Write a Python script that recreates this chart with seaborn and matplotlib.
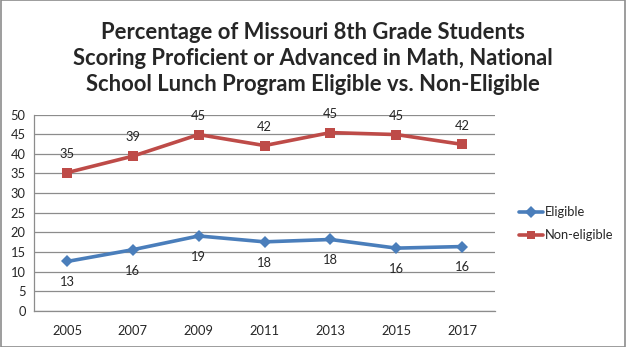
import matplotlib
matplotlib.use("Agg")
import matplotlib.pyplot as plt
import seaborn as sns
import pandas as pd
from matplotlib.patches import Rectangle
from matplotlib.lines import Line2D

years = ["2005", "2007", "2009", "2011", "2013", "2015", "2017"]
eligible = [12.6, 15.6, 19.1, 17.6, 18.2, 16.0, 16.4]
non_eligible = [35.2, 39.4, 44.9, 42.1, 45.4, 44.9, 42.4]
series_names = ["Eligible", "Non-eligible"]
title = ("Percentage of Missouri 8th Grade Students\n"
         "Scoring Proficient or Advanced in Math, National\n"
         "School Lunch Program Eligible vs. Non-Eligible")

df = pd.DataFrame({
    "year": years * 2,
    "pos": list(range(len(years))) * 2,
    "value": eligible + non_eligible,
    "group": [series_names[0]] * len(years) + [series_names[1]] * len(years),
})

sns.set_style("white")
plt.rcParams["font.family"] = ["Lato", "DejaVu Sans"]

colors = {"Eligible": "#4A7EBB", "Non-eligible": "#BE4B48"}
fig = plt.figure(figsize=(6.26, 3.47), dpi=100)
ax = fig.add_axes([0.0543, 0.1037, 0.7366, 0.5663])

sns.lineplot(data=df, x="pos", y="value", hue="group", style="group",
             markers={"Eligible": "D", "Non-eligible": "s"}, dashes=False,
             palette=colors, linewidth=2.6, markersize=6.5, markeredgewidth=0,
             ax=ax, legend=False)

ax.set_xlim(-0.5, len(years) - 0.5)
ax.set_ylim(0, 50)
ax.set_yticks(range(0, 51, 5))
ax.set_xticks(range(len(years)))
ax.set_xticklabels(years)
ax.set_xticks([i - 0.5 for i in range(len(years) + 1)], minor=True)
ax.set_xlabel("")
ax.set_ylabel("")
ax.grid(axis="y", color="#8c8c8c", linewidth=0.9)
ax.set_axisbelow(True)
for s in ["top", "right"]:
    ax.spines[s].set_visible(False)
for s in ["left", "bottom"]:
    ax.spines[s].set_color("#8c8c8c")
    ax.spines[s].set_linewidth(0.9)
ax.tick_params(axis="x", which="major", length=0, pad=10, labelsize=9.3)
ax.tick_params(axis="x", which="minor", length=5, color="#8c8c8c", width=0.9)
ax.tick_params(axis="y", length=4, color="#8c8c8c", width=0.9, pad=2, labelsize=9.3)

for i, v in enumerate(non_eligible):
    ax.annotate(f"{v:.0f}", (i, v), xytext=(0, 13.5), textcoords="offset points",
                ha="center", va="center", fontsize=9.3)
for i, v in enumerate(eligible):
    ax.annotate(f"{v:.0f}", (i, v), xytext=(0, -15), textcoords="offset points",
                ha="center", va="center", fontsize=9.3)

handles = [Line2D([], [], color=colors["Eligible"], marker="D", lw=2.6, ms=6, mew=0),
           Line2D([], [], color=colors["Non-eligible"], marker="s", lw=2.6, ms=6, mew=0)]
fig.legend(handles, series_names, loc="center left", bbox_to_anchor=(0.81, 0.355),
           frameon=False, fontsize=9.3, handlelength=1.9, handletextpad=0.15,
           labelspacing=0.85)

fig.text(0.5, 0.832, title, ha="center", va="center", fontsize=15.8,
         fontweight="bold", linespacing=1.28)

fig.patches.append(Rectangle((0.0008, 0.0014), 0.9984, 0.9972, transform=fig.transFigure,
                             fill=False, edgecolor="#8c8c8c", linewidth=1.2))

fig.savefig("out.png", dpi=100)
